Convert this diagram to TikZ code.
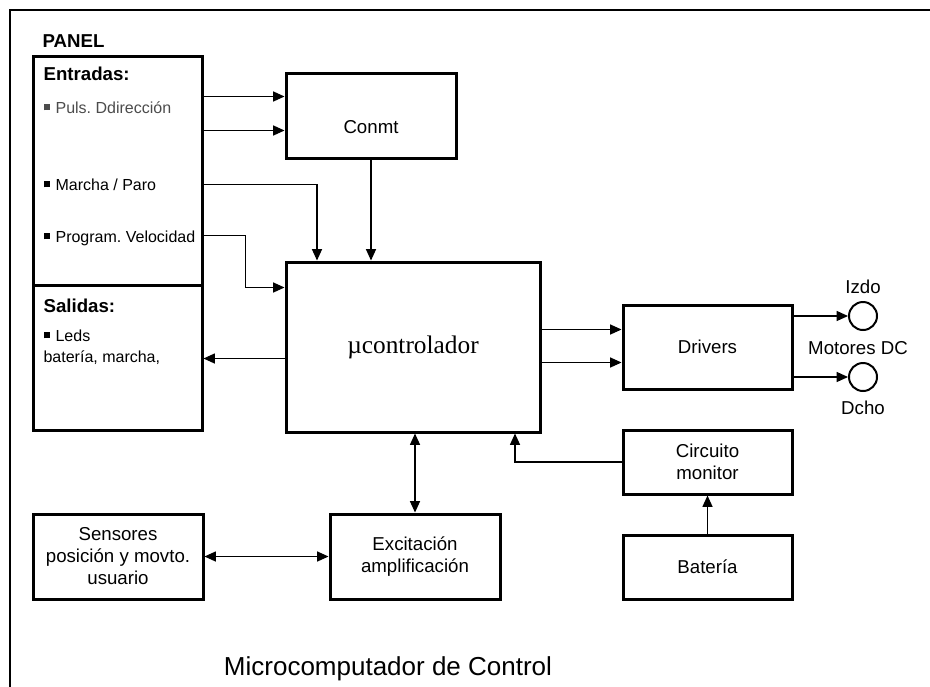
\documentclass[tikz,border=0pt]{standalone}
\usepackage{fontspec}
\setmainfont{Liberation Sans}
\newfontfamily\timesfont{Liberation Serif}
\usepackage{tikz}
\usetikzlibrary{arrows.meta}
\usetikzlibrary{calc}
\usetikzlibrary{positioning}
\tikzset{
  block/.style={rectangle,draw,line width=2.25pt,font=\fontsize{14}{16.5}\selectfont,
    align=center,minimum width=127.5pt,minimum height=63.75pt,inner sep=0pt},
  panel/.style={block,minimum width=126.75pt},
  motor/.style={circle,draw,line width=1.5pt,minimum size=21pt,inner sep=0pt},
  txt/.style={font=\fontsize{14}{16.5}\selectfont,inner sep=0pt},
  item/.style={font=\fontsize{12}{14}\selectfont,inner sep=0pt,anchor=base west},
  head/.style={font=\fontsize{14}{16}\selectfont\bfseries,inner sep=0pt,anchor=base west}
}
\newcommand{\sq}{\rule[2pt]{4.5pt}{4.5pt}\hspace{4.5pt}}
\frenchspacing

\begin{document}
\begin{tikzpicture}[x=0.75pt,y=-0.75pt,->,>={Triangle[length=8.5pt,width=7.5pt]},line width=0.9pt]
  \useasboundingbox (0,0) rectangle (930,686);
  \draw[-,line width=1.8pt] (10,690) -- (10,10) -- (932,10);

  % panel
  \node[head] (pan) at (42,47) {PANEL};
  \node[panel,minimum height=171.75pt] (ent) at (117.5,170.5) {};
  \node[panel,minimum height=108.75pt] (sal) at (117.5,357.5) {};
  \node[head] (enth) at (43,80) {Entradas:};
  \node[item,text=black!70] (i1) at (43,113) {\sq Puls. Ddirección};
  \node[item] (i2) at (43,190) {\sq Marcha / Paro};
  \node[item] (i3) at (43,242) {\sq Program. Velocidad};
  \node[head] (salh) at (43,312) {Salidas:};
  \node[item] (o1) at (43,341) {\sq Leds};
  \node[item] (o2) at (43,362) {batería, marcha,};

  % blocks
  \node[block,label={[txt,yshift=-9pt]center:Conmt}] (conmt) at (371,115.5) {};
  \node[block,minimum width=190.5pt,minimum height=127.5pt,
        font=\timesfont\fontsize{19}{22}\selectfont] (uc) at (413,347) {µcontrolador};
  \node[block,minimum width=126.75pt,minimum height=63pt] (drv) at (707.5,347) {Drivers};
  \node[block,minimum width=126.75pt,minimum height=48pt] (circ) at (707.5,462) {Circuito\\monitor};
  \node[block,minimum width=126.75pt,minimum height=48pt] (bat) at (707.5,567) {Batería};
  \node[block] (exc) at (415,556.5) {Excitación\\amplificación};
  \node[block] (sens) at (118,556.5) {Sensores\\posición y movto.\\usuario};

  % motores
  \node[motor] (izq) at (863,316) {};
  \node[motor] (dch) at (863,377) {};
  \node[txt,above=5pt of izq] (izql) {Izdo};
  \node[txt] (mot) at (858,348) {Motores DC};
  \node[txt,below=6pt of dch] (dchl) {Dcho};

  \node[font=\fontsize{19.5}{22}\selectfont,anchor=base] (tit) at (388,675) {Microcomputador de Control};

  % connectors
  \draw ($(ent.north east)+(0,42)$) -- ($(conmt.north west)+(0,25)$);
  \draw ($(ent.north east)+(0,76)$) -- ($(conmt.north west)+(0,59)$);
  \draw ($(ent.north east)+(0,130)$) -| ($(uc.north)+(-96,0)$);
  \draw ($(ent.north east)+(0,181)$) -- ++(42,0) |- ($(uc.north west)+(0,27)$);
  \draw (conmt.south) -- (conmt.south |- uc.north);
  \draw ($(uc.north west)+(0,98)$) coordinate (o) -- (o -| sal.east);
  \draw ($(uc.north east)+(0,69)$) -- ($(drv.north west)+(0,26)$);
  \draw ($(uc.north east)+(0,102)$) -- ($(drv.north west)+(0,59)$);
  \draw (izq -| drv.east) -- (izq);
  \draw (dch -| drv.east) -- (dch);
  \draw[<->] (exc.north) -- (exc.north |- uc.south);
  \draw (circ.west) -| ($(uc.south)+(102,0)$);
  \draw (bat) -- (circ);
  \draw[<->] (sens) -- (exc);
\end{tikzpicture}
\end{document}
